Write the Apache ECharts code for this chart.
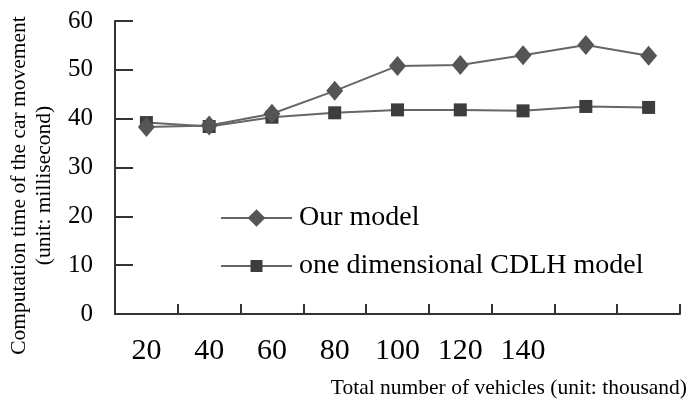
<!DOCTYPE html>
<html>
<head>
<meta charset="utf-8">
<script src="https://cdn.jsdelivr.net/npm/echarts@6/dist/echarts.min.js"></script>
<style>html,body{margin:0;padding:0;background:#fff}#c{width:695px;height:400px}</style>
</head>
<body>
<div id="c"></div>
<script>
var categories = ['20', '40', '60', '80', '100', '120', '140', '160', '180'];
var tickLabels = ['20', '40', '60', '80', '100', '120', '140', '', ''];
var ourModel = [38.3, 38.6, 41.0, 45.7, 50.8, 51.0, 53.0, 55.1, 52.9];
var cdlhModel = [39.2, 38.4, 40.3, 41.2, 41.8, 41.8, 41.6, 42.5, 42.3];
var yTicks = [0, 10, 20, 30, 40, 50, 60];
var seriesNames = ['Our model', 'one dimensional CDLH model'];

var serif = 'Liberation Serif';
var legendText = {fontFamily: serif, fontSize: 28, color: '#000', padding: [0, 0, 0, 2]};
var chart = echarts.init(document.getElementById('c'));
chart.setOption({
  animation: false,
  backgroundColor: '#fff',
  title: {
    text: 'Total number of vehicles (unit: thousand)',
    right: 3, top: 372,
    textStyle: {fontFamily: serif, fontSize: 21.5, fontWeight: 'normal', color: '#000'}
  },
  legend: [
    {
      orient: 'vertical', left: 215, top: 199,
      itemWidth: 71, itemHeight: 22,
      textStyle: legendText,
      data: [seriesNames[0]]
    },
    {
      orient: 'vertical', left: 215, top: 247,
      itemWidth: 71, itemHeight: 15,
      textStyle: legendText,
      data: [seriesNames[1]]
    }
  ],
  grid: {left: 115, right: 15, top: 21, bottom: 86, outerBoundsMode: 'none', containLabel: false},
  xAxis: {
    type: 'category',
    data: categories,
    boundaryGap: true,
    axisLine: {lineStyle: {color: '#333', width: 2}},
    axisTick: {show: true, interval: 0, inside: true, length: 10, lineStyle: {color: '#333', width: 2}},
    axisLabel: {
      interval: 0,
      margin: 22, fontFamily: serif, fontSize: 30, color: '#000',
      formatter: function (v, i) { return tickLabels[i]; }
    },
    splitLine: {show: false}
  },
  yAxis: {
    type: 'value',
    min: yTicks[0], max: yTicks[yTicks.length - 1], interval: 10,
    name: 'Computation time of the car movement\n(unit: millisecond)',
    nameLocation: 'middle',
    nameGap: 58,
    nameRotate: 90,
    nameTextStyle: {fontFamily: serif, fontSize: 21.5, color: '#000', lineHeight: 25, padding: [0, 36, 0, 0]},
    axisLine: {show: true, lineStyle: {color: '#333', width: 2}},
    axisTick: {show: true, inside: true, length: 18, lineStyle: {color: '#333', width: 2}},
    axisLabel: {margin: 22, fontFamily: serif, fontSize: 25, color: '#000'},
    splitLine: {show: false}
  },
  series: [
    {
      name: seriesNames[0],
      type: 'line',
      data: ourModel,
      symbol: 'diamond',
      symbolSize: [17, 20],
      itemStyle: {color: '#555555'},
      lineStyle: {color: '#666666', width: 2},
      z: 3
    },
    {
      name: seriesNames[1],
      type: 'line',
      data: cdlhModel,
      symbol: 'rect',
      symbolSize: 13,
      itemStyle: {color: '#3d3d3d'},
      lineStyle: {color: '#666666', width: 2},
      z: 2
    }
  ]
});
</script>
</body>
</html>
